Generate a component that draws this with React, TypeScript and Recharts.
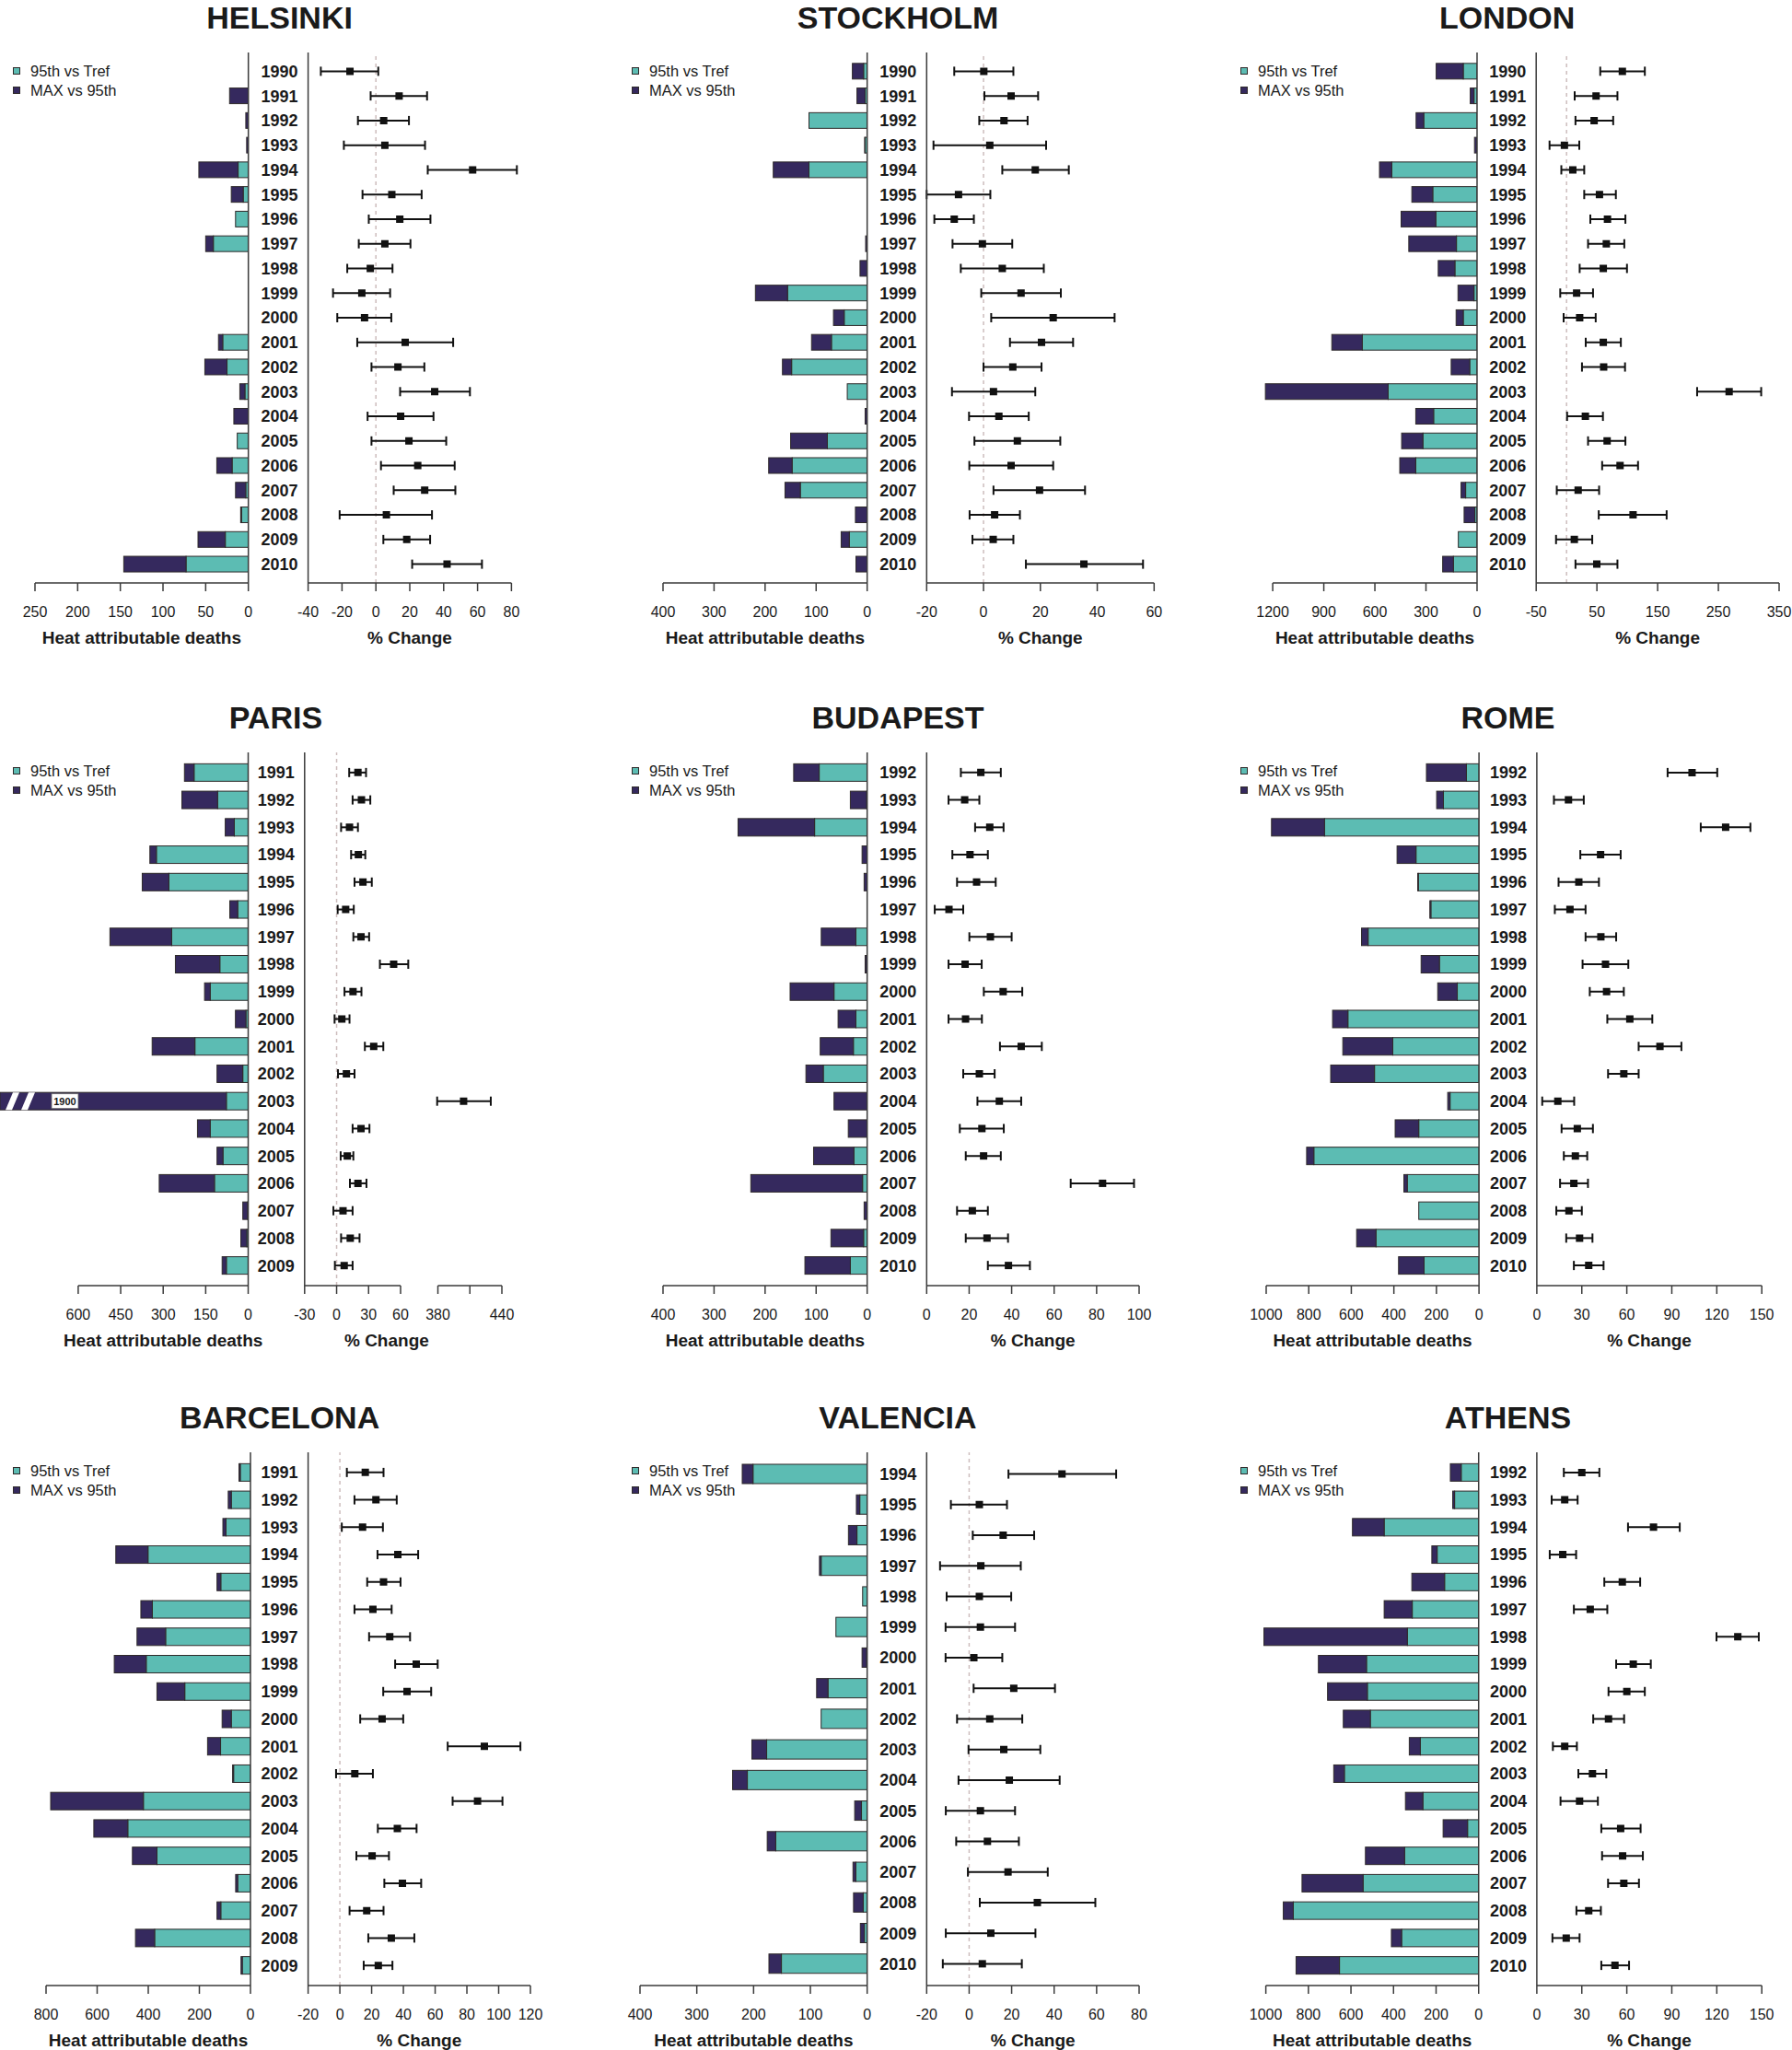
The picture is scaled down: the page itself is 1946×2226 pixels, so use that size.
import React from "react";
import { Bar, BarChart, ErrorBar, Label, ReferenceLine, Scatter, ScatterChart, XAxis, YAxis } from "recharts";

const FONT = "'Liberation Sans', Arial, Helvetica, sans-serif";
const TEAL = "#5cbcb3";
const PURPLE = "#35295e";
const EDGE = "#2f2a2a";
const AXIS = "#3a3a3a";
const INK = "#1a1a1a";

const span = (a: number, b: number) => Array.from({ length: b - a + 1 }, (_, i) => a + i);

// ---------- data: 95th vs Tref / MAX vs 95th (deaths), % change est / lo / hi ----------
const helsinkiYears = span(1990, 2010);
const helsinkiTref = [0, 0, 0, 0, 12, 6, 15, 41, 0, 0, 0, 30, 25, 4, 0, 13, 19, 3, 8, 27, 73];
const helsinkiMax = [0, 22, 3, 2, 46, 14, 0, 9, 0, 0, 0, 5, 26, 6, 17, 0, 18, 12, 1, 32, 73];
const helsinkiEst = [-15.3, 13.7, 4.6, 5.3, 57.1, 9.4, 14.1, 5.3, -3.3, -8.3, -6.7, 17.3, 13, 34.7, 14.6, 19.5, 24.7, 28.8, 6.2, 18.2, 42];
const helsinkiLo = [-32.5, -3.1, -10.6, -18.9, 30.6, -7.9, -4.2, -10.1, -16.9, -25.3, -22.8, -11, -2.6, 14.3, -4.9, -2.6, 3, 10.5, -21.4, 4.4, 21.4];
const helsinkiHi = [1.4, 30.2, 19.5, 29, 83.2, 27, 32.2, 20.4, 9.8, 8.4, 9.1, 45.6, 28.6, 55.5, 34, 41.5, 46.5, 46.9, 33.1, 32, 62.6];

const stockholmYears = span(1990, 2010);
const stockholmTref = [7, 4, 114, 4, 114, 0, 0, 0, 0, 156, 45, 70, 148, 39, 0, 78, 147, 131, 0, 35, 0];
const stockholmMax = [22, 16, 0, 1, 70, 0, 0, 3, 14, 63, 21, 39, 18, 0, 4, 72, 46, 30, 23, 16, 22];
const stockholmEst = [0.1, 9.7, 7.2, 2.2, 18.2, -8.8, -10.3, -0.4, 6.6, 13.2, 24.5, 20.4, 10.3, 3.5, 5.4, 11.9, 9.7, 19.7, 3.9, 3.4, 35.3];
const stockholmLo = [-10.3, 0.3, -1.5, -17.6, 6.6, -20, -17.3, -10.9, -8, -0.8, 2.7, 9.3, 0, -11.1, -5.1, -3.2, -5, 3.5, -4.9, -3.9, 14.9];
const stockholmHi = [10.5, 19.2, 15.5, 22, 30, 2.4, -3.4, 10.1, 21.2, 27.2, 46.1, 31.5, 20.4, 18.2, 15.9, 27, 24.5, 35.7, 12.8, 10.5, 56.1];

const londonYears = span(1990, 2010);
const londonTref = [81, 18, 313, 0, 501, 260, 242, 121, 130, 18, 81, 674, 43, 522, 255, 318, 360, 67, 13, 110, 139];
const londonMax = [159, 22, 45, 15, 72, 123, 204, 280, 98, 94, 42, 179, 109, 721, 105, 125, 94, 27, 63, 0, 63];
const londonEst = [91.9, 48.6, 45.4, -3.5, 10.3, 54.2, 67.4, 65.5, 60.5, 16.6, 21.6, 60.5, 61.1, 267.7, 31, 66.8, 88.1, 19.1, 109.5, 12.8, 49.8];
const londonLo = [55.5, 13.4, 14.7, -28, -8.6, 29.1, 39.2, 35.4, 21.6, -10.4, -4.8, 31.6, 25.4, 215, 0.9, 35.4, 58.6, -16.1, 53, -17.3, 14.7];
const londonHi = [128.9, 83.8, 76.8, 21, 29.1, 81.2, 96.9, 95.1, 99.5, 43.6, 48, 89.4, 96.3, 320.5, 59.9, 96.9, 117.7, 53.6, 164.8, 42.3, 83.8];

const parisYears = span(1991, 2009);
const parisTref = [191, 108, 49, 324, 280, 37, 270, 100, 134, 8, 188, 19, 77, 134, 89, 119, 2, 5, 77];
const parisMax = [34, 126, 32, 23, 94, 28, 218, 157, 20, 37, 151, 91, 1823, 45, 21, 195, 17, 21, 15];
const parisEst = [20, 23.3, 12.1, 20.4, 24.7, 8.5, 22.9, 53.5, 15.4, 4.9, 34.8, 9.2, 404.1, 22.9, 10, 20, 6, 12.8, 7.1];
const parisLo = [11.8, 15, 4.2, 13.6, 16.8, 1, 15.7, 40.6, 7.4, -1.9, 26.5, 1.3, 379.3, 15, 3.8, 12.5, -3, 4.2, -1.6];
const parisHi = [27.6, 31.6, 20, 26.9, 33, 16.1, 30.5, 67.2, 23.3, 12.1, 43.8, 16.8, 429.6, 30.8, 15.7, 28, 15, 21.5, 15];

const budapestYears = span(1992, 2010);
const budapestTref = [94, 1, 103, 0, 0, 0, 22, 1, 65, 22, 27, 86, 0, 0, 26, 9, 0, 7, 33];
const budapestMax = [50, 32, 150, 10, 6, 0, 68, 3, 86, 35, 65, 34, 65, 37, 79, 219, 6, 64, 89];
const budapestEst = [25.5, 17.9, 29.7, 20.4, 23.5, 10.5, 30, 18.1, 36, 18.3, 44.5, 24.8, 34.2, 26, 26.8, 82.8, 21.5, 28.4, 38.5];
const budapestLo = [16.1, 10.3, 22.8, 12.1, 14.3, 3.8, 20.1, 10.3, 26.9, 10.3, 34.5, 17.2, 23.9, 15.6, 18.4, 67.8, 14.3, 18.4, 28.8];
const budapestHi = [34.9, 24.8, 36.2, 28.8, 32.5, 17.2, 40, 25.9, 45, 26, 54.2, 32, 44.5, 36.3, 34.9, 97.6, 28.8, 38.3, 48.6];

const romeYears = span(1992, 2010);
const romeTref = [59, 167, 726, 296, 285, 226, 521, 186, 102, 616, 405, 491, 136, 283, 776, 337, 283, 484, 258];
const romeMax = [188, 32, 249, 89, 3, 5, 31, 86, 92, 72, 235, 206, 11, 111, 34, 16, 0, 91, 120];
const romeEst = [103.5, 21.1, 125.9, 42.5, 28, 22.1, 42.7, 45.8, 46.5, 62, 82.1, 58, 14, 27, 25.7, 24.7, 21.4, 28.5, 34.6];
const romeLo = [87.2, 11.4, 109.3, 29, 14.5, 12, 32.5, 30.5, 35.3, 47, 67.9, 47.5, 3.6, 16.5, 18, 15.5, 13, 19.6, 24.7];
const romeHi = [120.3, 31.3, 142.4, 55.9, 41.4, 32.5, 52.9, 61, 58, 77, 96.4, 67.9, 24.9, 37.4, 33.6, 34.1, 30, 37.1, 44.5];

const barcelonaYears = span(1991, 2009);
const barcelonaTref = [40, 75, 96, 401, 116, 384, 332, 408, 257, 75, 117, 66, 419, 480, 366, 50, 116, 375, 32];
const barcelonaMax = [5, 12, 12, 126, 15, 45, 112, 125, 109, 36, 51, 4, 363, 133, 96, 8, 15, 75, 5];
const barcelonaEst = [16, 22.7, 14.3, 36.5, 27.5, 20.8, 31.4, 48.1, 42.3, 26.6, 91, 9.4, 86.7, 36.2, 20.3, 39.4, 16.9, 32.4, 24.2];
const barcelonaLo = [4.4, 9.2, 1.2, 23.7, 17.2, 9.2, 18.4, 34.8, 27.3, 12.8, 67.9, -2.4, 71, 23.9, 10.4, 28, 6.1, 17.9, 15];
const barcelonaHi = [27.5, 35.8, 27.1, 49.3, 38.2, 32.6, 44.2, 61.6, 57.5, 39.9, 113.7, 20.8, 102.4, 48.3, 30.9, 51.2, 27.5, 46.9, 33.1];

const valenciaYears = span(1994, 2010);
const valenciaTref = [201, 13, 18, 81, 8, 55, 1, 69, 81, 177, 211, 10, 161, 20, 7, 5, 151];
const valenciaMax = [19, 6, 15, 3, 0, 0, 8, 20, 0, 26, 26, 12, 15, 5, 17, 7, 22];
const valenciaEst = [43.7, 4.8, 16, 5.5, 4.8, 5.3, 2.2, 21, 9.7, 16.3, 18.9, 5.3, 8.6, 18.3, 32.1, 10.2, 6.2];
const valenciaLo = [18.5, -8.6, 1.7, -13.7, -10.6, -11.1, -11.1, 2.1, -5.7, -0.3, -5, -11, -6.1, -0.6, 5, -11, -12.4];
const valenciaHi = [69.2, 17.8, 30.6, 24.3, 19.8, 21.6, 15.6, 40.4, 25, 33.5, 42.6, 21.6, 23.4, 37, 59.4, 31.2, 24.8];

const athensYears = span(1992, 2010);
const athensTref = [82, 113, 444, 195, 160, 312, 335, 527, 523, 509, 274, 631, 262, 52, 348, 543, 871, 362, 654];
const athensMax = [51, 9, 149, 25, 154, 132, 674, 226, 187, 127, 52, 50, 82, 115, 184, 287, 47, 48, 204];
const athensEst = [30, 18.6, 77.8, 17.3, 57, 35.6, 134, 64.3, 60, 47.8, 18.6, 37.1, 28.5, 55.9, 57.2, 58, 34.6, 19.6, 52.1];
const athensLo = [18, 9.9, 60.8, 8.6, 45, 24.7, 119.8, 52.9, 47.8, 37.6, 10.7, 27.7, 15.8, 43, 43.5, 47.5, 26.4, 10.4, 43];
const athensHi = [41.7, 27.2, 95.3, 26.2, 68.9, 47, 148, 76, 72, 58.2, 26.7, 46.3, 40.7, 69.2, 70.7, 68.1, 42.7, 28.5, 61.5];

// axis ticks
const ticksHelsinkiBar = [0, 50, 100, 150, 200, 250];
const ticksHelsinkiErr = [-40, -20, 0, 20, 40, 60, 80];
const ticks400 = [0, 100, 200, 300, 400];
const ticksStockholmErr = [-20, 0, 20, 40, 60];
const ticksLondonBar = [0, 300, 600, 900, 1200];
const ticksLondonErr = [-50, 50, 150, 250, 350];
const ticksParisBar = [0, 150, 300, 450, 600];
const ticksParisErr = [-30, 0, 30, 60, 380, 410, 440];
const labelsParisErr = ["-30", "0", "30", "60", "380", "", "440"];
const ticksBudapestErr = [0, 20, 40, 60, 80, 100];
const ticks1000 = [0, 200, 400, 600, 800, 1000];
const ticks150 = [0, 30, 60, 90, 120, 150];
const ticksBarcelonaBar = [0, 200, 400, 600, 800];
const ticksBarcelonaErr = [-20, 0, 20, 40, 60, 80, 100, 120];
const ticksValenciaErr = [-20, 0, 20, 40, 60, 80];

// barTickLeft: pixel of the last bar tick; barMax may run past it (bars overflow the axis)
type Lay = { barTickLeft: number; barRight: number; errLeft: number; errRight: number; plotTop: number; axisY: number; legendX: number; errTitleDx?: number };
type Brk = { at: number; resume: number; shift: number };
type PanelDef = {
  name: string; years: number[]; tref: number[]; max: number[]; est: number[]; lo: number[]; hi: number[];
  barTicks: number[]; barMax: number; breakBar?: boolean; errTicks: number[]; errLabels?: string[]; brk?: Brk; lay: Lay;
};

const PANELS: PanelDef[] = [
  { name: "HELSINKI", years: helsinkiYears, tref: helsinkiTref, max: helsinkiMax, est: helsinkiEst, lo: helsinkiLo, hi: helsinkiHi,
    barTicks: ticksHelsinkiBar, barMax: 250, errTicks: ticksHelsinkiErr,
    lay: { barTickLeft: 38.3, barRight: 270, errLeft: 334.6, errRight: 555.4, plotTop: 57, axisY: 633, legendX: 14 } },
  { name: "STOCKHOLM", years: stockholmYears, tref: stockholmTref, max: stockholmMax, est: stockholmEst, lo: stockholmLo, hi: stockholmHi,
    barTicks: ticks400, barMax: 400, errTicks: ticksStockholmErr,
    lay: { barTickLeft: 720, barRight: 941.7, errLeft: 1006, errRight: 1253, plotTop: 57, axisY: 633, legendX: 686 } },
  { name: "LONDON", years: londonYears, tref: londonTref, max: londonMax, est: londonEst, lo: londonLo, hi: londonHi,
    barTicks: ticksLondonBar, barMax: 1260, errTicks: ticksLondonErr,
    lay: { barTickLeft: 1381.6, barRight: 1603.5, errLeft: 1667.7, errRight: 1931.5, plotTop: 57, axisY: 633, legendX: 1347 } },
  { name: "PARIS", years: parisYears, tref: parisTref, max: parisMax, est: parisEst, lo: parisLo, hi: parisHi,
    barTicks: ticksParisBar, barMax: 876, breakBar: true, errTicks: ticksParisErr, errLabels: labelsParisErr, brk: { at: 60, resume: 380, shift: 285 },
    lay: { barTickLeft: 85, barRight: 269.6, errLeft: 330.4, errRight: 544.6, plotTop: 817, axisY: 1396, legendX: 14, errTitleDx: -18 } },
  { name: "BUDAPEST", years: budapestYears, tref: budapestTref, max: budapestMax, est: budapestEst, lo: budapestLo, hi: budapestHi,
    barTicks: ticks400, barMax: 400, errTicks: ticksBudapestErr,
    lay: { barTickLeft: 720, barRight: 941.7, errLeft: 1006, errRight: 1236.7, plotTop: 817, axisY: 1396, legendX: 686 } },
  { name: "ROME", years: romeYears, tref: romeTref, max: romeMax, est: romeEst, lo: romeLo, hi: romeHi,
    barTicks: ticks1000, barMax: 1000, errTicks: ticks150,
    lay: { barTickLeft: 1374.5, barRight: 1605.6, errLeft: 1668.5, errRight: 1912.8, plotTop: 817, axisY: 1396, legendX: 1347 } },
  { name: "BARCELONA", years: barcelonaYears, tref: barcelonaTref, max: barcelonaMax, est: barcelonaEst, lo: barcelonaLo, hi: barcelonaHi,
    barTicks: ticksBarcelonaBar, barMax: 800, errTicks: ticksBarcelonaErr,
    lay: { barTickLeft: 50, barRight: 272, errLeft: 334.6, errRight: 576, plotTop: 1577, axisY: 2156, legendX: 14 } },
  { name: "VALENCIA", years: valenciaYears, tref: valenciaTref, max: valenciaMax, est: valenciaEst, lo: valenciaLo, hi: valenciaHi,
    barTicks: ticks400, barMax: 400, errTicks: ticksValenciaErr,
    lay: { barTickLeft: 695, barRight: 941.7, errLeft: 1006, errRight: 1236.7, plotTop: 1577, axisY: 2156, legendX: 686 } },
  { name: "ATHENS", years: athensYears, tref: athensTref, max: athensMax, est: athensEst, lo: athensLo, hi: athensHi,
    barTicks: ticks1000, barMax: 1020, errTicks: ticks150,
    lay: { barTickLeft: 1374.5, barRight: 1605.6, errLeft: 1668.5, errRight: 1912.8, plotTop: 1577, axisY: 2156, legendX: 1347 } },
];

const PAD_TOP = 10;
const XAXIS_H = 80;
const tickStyle = { fontSize: 16, fill: INK, fontFamily: FONT };

// stacked segment; for a broken bar it draws the break marks and the total
function SegShape(props: any) {
  const { x, y, width, height, fill, stroke, payload, dataKey } = props;
  const w = Math.abs(width);
  if (!(w > 0.3) || !(height > 0)) return null;
  const left = Math.min(x, x + width);
  const bottom = y + height;
  const broken = dataKey === "max" && payload && payload.brokenTotal;
  return (
    <g>
      <rect x={left} y={y} width={w} height={height} fill={fill} stroke={stroke} strokeWidth={1} />
      {broken ? (
        <g>
          <polygon points={`${left + 6},${bottom} ${left + 13},${bottom} ${left + 21},${y} ${left + 14},${y}`} fill="#fff" />
          <polygon points={`${left + 23},${bottom} ${left + 30},${bottom} ${left + 38},${y} ${left + 31},${y}`} fill="#fff" />
          <rect x={left + 56} y={y + 1.5} width={29} height={height - 3} fill="#fff" stroke="#666" strokeWidth={0.8} />
          <text x={left + 70.5} y={y + height / 2} dy="0.36em" textAnchor="middle" fontSize={11} fontWeight={700} fill={INK} fontFamily={FONT}>
            {broken}
          </text>
        </g>
      ) : null}
    </g>
  );
}

function Panel({ p }: { p: PanelDef }) {
  const lay = p.lay;
  const chartTop = lay.plotTop - PAD_TOP;
  const chartH = lay.axisY - lay.plotTop + PAD_TOP + XAXIS_H;

  const rows = p.years.map((year, i) => {
    const total = p.tref[i] + p.max[i];
    const shown = Math.min(total, p.barMax);
    return { year: String(year), tref: p.tref[i], max: shown - p.tref[i], brokenTotal: p.breakBar && total > p.barMax ? total : 0 };
  });

  const brk = p.brk;
  const toX = (v: number) => (brk && v > (brk.at + brk.resume) / 2 ? v - brk.shift : v);
  const pts = p.years.map((year, i) => ({
    year,
    x: toX(p.est[i]),
    err: [p.est[i] - p.lo[i], p.hi[i] - p.est[i]],
  }));

  // bar chart geometry
  const visMax = p.barTicks[p.barTicks.length - 1];
  const pxPerUnit = (lay.barRight - lay.barTickLeft) / visMax;
  const barLeft = lay.barRight - p.barMax * pxPerUnit;
  const barChartLeft = barLeft - 30;
  const BAR_RIGHT_PAD = 45;
  const barW = lay.barRight - barChartLeft + 1 + BAR_RIGHT_PAD;
  const barPlotW = lay.barRight - barLeft;
  const hidden = lay.barTickLeft - barLeft;
  const barAxisLine: any = { stroke: AXIS, strokeWidth: 1.5 };
  if (hidden > 0.5) barAxisLine.strokeDasharray = `0 ${hidden} ${barPlotW + 10}`;

  // error chart geometry
  const errChartLeft = lay.barRight + 2;
  const yW = lay.errLeft - errChartLeft;
  const errW = lay.errRight - errChartLeft + 30;
  const errPlotW = lay.errRight - lay.errLeft;
  const errTickPos = p.errTicks.map(toX);
  const d0 = errTickPos[0];
  const d1 = errTickPos[errTickPos.length - 1];
  const errAxisLine: any = { stroke: AXIS, strokeWidth: 1.5 };
  if (brk) {
    const k = errPlotW / (d1 - d0);
    errAxisLine.strokeDasharray = `${(brk.at - d0) * k} ${(toX(brk.resume) - brk.at) * k} ${errPlotW}`;
  }
  const y0 = p.years[0];
  const y1 = p.years[p.years.length - 1];
  const titleCenter = lay.errLeft - 31;

  return (
    <>
      <div
        style={{
          position: "absolute", left: titleCenter - 200, width: 400, top: lay.plotTop - 57, height: 40,
          lineHeight: "39px", textAlign: "center", fontSize: 34, fontWeight: 700, color: INK, fontFamily: FONT,
        }}
      >
        {p.name}
      </div>

      <div style={{ position: "absolute", left: lay.legendX, top: lay.plotTop + 9.5, fontFamily: FONT, fontSize: 16.5, color: INK }}>
        {[["95th vs Tref", TEAL], ["MAX vs 95th", PURPLE]].map(([t, c]) => (
          <div key={t} style={{ display: "flex", alignItems: "center", height: 21 }}>
            <span style={{ width: 7.5, height: 7.5, background: c, border: `0.5px solid ${EDGE}`, boxSizing: "border-box" }} />
            <span style={{ marginLeft: 11.5, lineHeight: "21px" }}>{t}</span>
          </div>
        ))}
      </div>

      <div style={{ position: "absolute", left: barChartLeft, top: chartTop, width: barW, height: chartH }}>
        <BarChart layout="vertical" width={barW} height={chartH} data={rows} margin={{ top: PAD_TOP, right: BAR_RIGHT_PAD, bottom: 0, left: 30 }} barCategoryGap="18%">
          <XAxis
            type="number" domain={[0, p.barMax]} reversed allowDataOverflow ticks={p.barTicks} interval={0}
            height={XAXIS_H} tickSize={9} tickMargin={17} tick={tickStyle} axisLine={barAxisLine} tickLine={{ stroke: AXIS, strokeWidth: 1.5 }}
          >
            <Label value="Heat attributable deaths" position="insideBottom" offset={14} dx={hidden / 2} fontSize={19} fontWeight={700} fill={INK} fontFamily={FONT} />
          </XAxis>
          <YAxis
            type="category" dataKey="year" orientation="right" width={1} tick={false} tickLine={false}
            axisLine={{ stroke: AXIS, strokeWidth: 1.5 }} padding={{ top: 7, bottom: 7 }}
          />
          <Bar dataKey="tref" stackId="s" fill={TEAL} stroke={EDGE} isAnimationActive={false} shape={SegShape} />
          <Bar dataKey="max" stackId="s" fill={PURPLE} stroke={EDGE} isAnimationActive={false} shape={SegShape} />
        </BarChart>
      </div>

      <div style={{ position: "absolute", left: errChartLeft, top: chartTop, width: errW, height: chartH }}>
        <ScatterChart width={errW} height={chartH} margin={{ top: PAD_TOP, right: 30, bottom: 0, left: 0 }}>
          <XAxis
            type="number" dataKey="x" domain={[d0, d1]} allowDataOverflow ticks={errTickPos} interval={0}
            tickFormatter={(v: number, i: number) => (p.errLabels ? p.errLabels[i] : String(v))}
            height={XAXIS_H} tickSize={9} tickMargin={17} tick={tickStyle} axisLine={errAxisLine} tickLine={{ stroke: AXIS, strokeWidth: 1.5 }}
          >
            <Label value="% Change" position="insideBottom" offset={14} dx={lay.errTitleDx || 0} fontSize={19} fontWeight={700} fill={INK} fontFamily={FONT} />
          </XAxis>
          <YAxis
            type="number" dataKey="year" domain={[y0 - 0.5, y1 + 0.5]} reversed allowDataOverflow ticks={p.years} interval={0}
            width={yW} tickSize={0} tickMargin={11} tickLine={false} padding={{ top: 7, bottom: 7 }}
            axisLine={{ stroke: AXIS, strokeWidth: 1.5 }} tick={{ fontSize: 18, fontWeight: 700, fill: INK, fontFamily: FONT }}
          />
          {d0 < 0 ? <ReferenceLine x={0} stroke="#cdbdbd" strokeWidth={1.5} strokeDasharray="4 4" /> : null}
          <Scatter data={pts} fill="#111" shape="square" isAnimationActive={false}>
            <ErrorBar dataKey="err" direction="x" width={5} strokeWidth={2} stroke="#111" isAnimationActive={false} />
          </Scatter>
        </ScatterChart>
      </div>
    </>
  );
}

export default function App() {
  return (
    <div style={{ position: "absolute", left: 0, top: 0, width: 1946, height: 2226, background: "#fff", overflow: "hidden" }}>
      {PANELS.map((p) => (
        <Panel key={p.name} p={p} />
      ))}
    </div>
  );
}
